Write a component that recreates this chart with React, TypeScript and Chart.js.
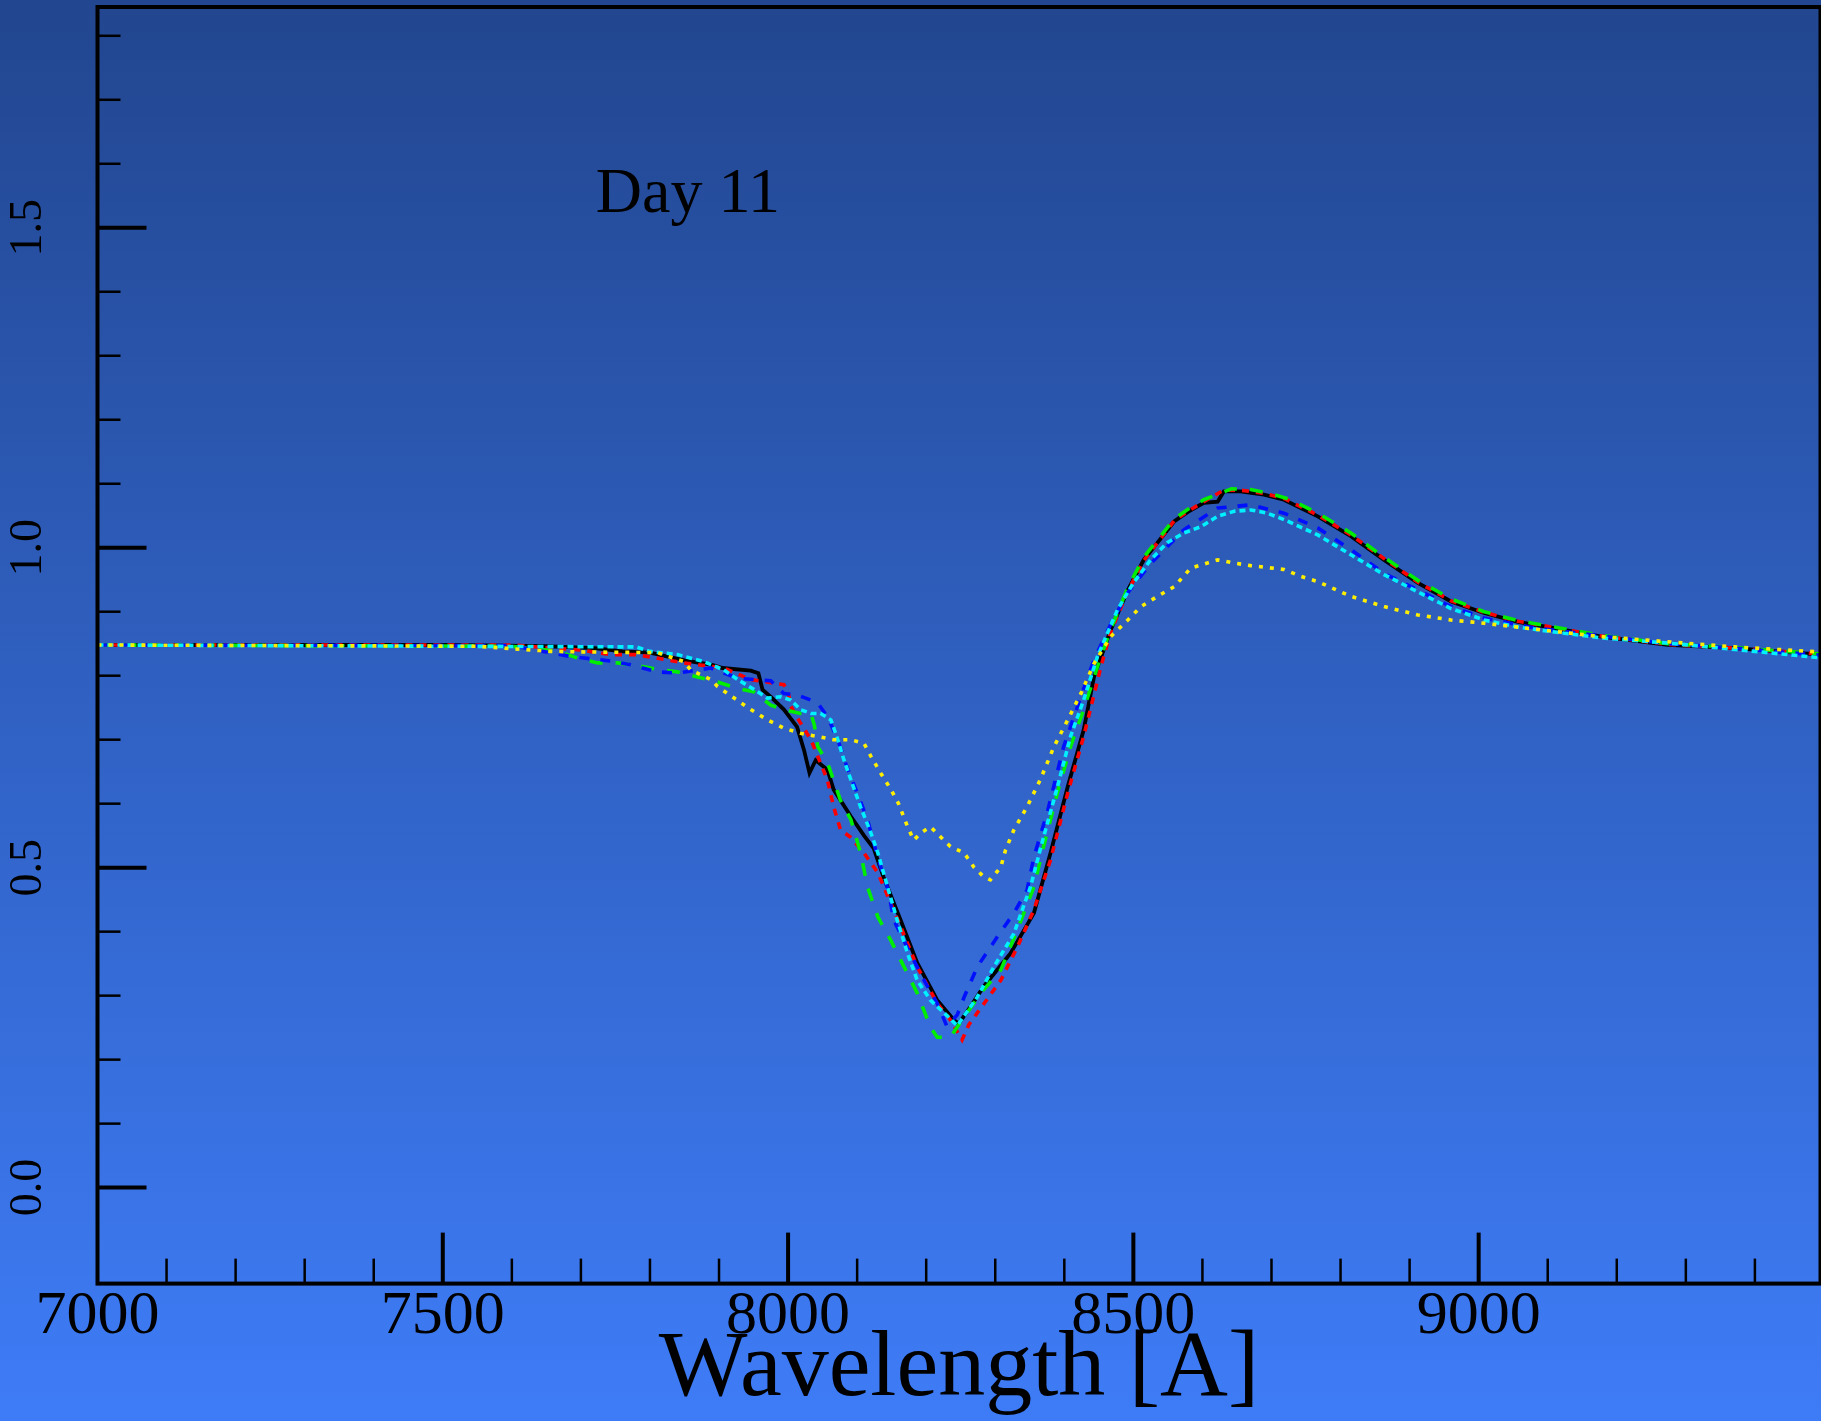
import React, { useEffect, useRef } from 'react';
import { Chart, registerables } from 'chart.js';

Chart.register(...registerables);

const CANVAS_W = 1821;
const CANVAS_H = 1421;

// ---- data (wavelength in Angstrom, normalised flux) ----
const blackWave = [7000, 7500, 7650, 7720, 7760, 7800, 7850, 7890, 7905, 7946, 7957, 7963, 7975, 7994, 8013, 8023, 8031, 8040, 8057, 8066, 8091, 8110, 8124, 8138, 8163, 8187, 8216, 8240, 8247, 8265, 8283, 8322, 8356, 8380, 8405, 8428, 8443, 8467, 8492, 8515, 8535, 8559, 8579, 8602, 8622, 8631, 8655, 8689, 8718, 8767, 8815, 8863, 8912, 8960, 9008, 9057, 9105, 9178, 9274, 9371, 9495];
const blackFlux = [0.848, 0.848, 0.846, 0.843, 0.838, 0.836, 0.824, 0.817, 0.812, 0.808, 0.804, 0.778, 0.767, 0.747, 0.720, 0.684, 0.648, 0.668, 0.653, 0.622, 0.580, 0.550, 0.530, 0.486, 0.418, 0.351, 0.293, 0.262, 0.256, 0.284, 0.314, 0.366, 0.429, 0.523, 0.627, 0.715, 0.798, 0.871, 0.934, 0.981, 1.008, 1.041, 1.056, 1.070, 1.072, 1.088, 1.088, 1.083, 1.075, 1.049, 1.018, 0.981, 0.945, 0.916, 0.898, 0.884, 0.875, 0.861, 0.848, 0.843, 0.833];

const redWave = [7000, 7600, 7700, 7743, 7781, 7849, 7907, 7946, 7994, 8000, 8004, 8018, 8033, 8043, 8057, 8066, 8076, 8090, 8110, 8130, 8163, 8187, 8216, 8235, 8252, 8262, 8274, 8308, 8332, 8356, 8380, 8405, 8428, 8453, 8467, 8492, 8515, 8535, 8559, 8579, 8602, 8631, 8655, 8689, 8718, 8767, 8815, 8863, 8912, 8960, 9008, 9057, 9105, 9178, 9274, 9371, 9495];
const redFlux = [0.848, 0.848, 0.840, 0.833, 0.833, 0.820, 0.812, 0.794, 0.786, 0.775, 0.752, 0.726, 0.700, 0.674, 0.637, 0.595, 0.559, 0.548, 0.523, 0.492, 0.408, 0.345, 0.288, 0.262, 0.231, 0.255, 0.273, 0.324, 0.376, 0.434, 0.512, 0.617, 0.705, 0.814, 0.868, 0.932, 0.980, 1.008, 1.042, 1.057, 1.072, 1.090, 1.090, 1.085, 1.077, 1.051, 1.020, 0.983, 0.946, 0.917, 0.899, 0.885, 0.876, 0.862, 0.849, 0.843, 0.834];

const greenWave = [7000, 7600, 7666, 7700, 7724, 7753, 7781, 7811, 7840, 7869, 7898, 7927, 7950, 7975, 7994, 8018, 8033, 8038, 8043, 8057, 8076, 8091, 8105, 8115, 8130, 8149, 8168, 8187, 8206, 8216, 8235, 8259, 8283, 8308, 8332, 8356, 8370, 8390, 8409, 8428, 8448, 8467, 8492, 8515, 8535, 8559, 8579, 8602, 8642, 8670, 8700, 8728, 8767, 8815, 8863, 8912, 8960, 9008, 9057, 9105, 9178, 9274, 9371, 9495];
const greenFlux = [0.848, 0.846, 0.838, 0.826, 0.820, 0.820, 0.816, 0.810, 0.806, 0.798, 0.790, 0.780, 0.775, 0.754, 0.747, 0.741, 0.741, 0.723, 0.689, 0.664, 0.605, 0.575, 0.523, 0.470, 0.423, 0.386, 0.345, 0.304, 0.251, 0.235, 0.235, 0.273, 0.309, 0.340, 0.403, 0.470, 0.533, 0.617, 0.689, 0.747, 0.814, 0.872, 0.938, 0.985, 1.012, 1.045, 1.060, 1.075, 1.092, 1.091, 1.084, 1.075, 1.054, 1.023, 0.985, 0.949, 0.920, 0.900, 0.886, 0.877, 0.863, 0.850, 0.844, 0.834];

const blueWave = [7000, 7600, 7685, 7743, 7772, 7811, 7840, 7888, 7927, 7975, 7994, 8013, 8033, 8043, 8057, 8072, 8085, 8100, 8115, 8130, 8145, 8153, 8177, 8197, 8216, 8230, 8245, 8255, 8274, 8303, 8327, 8346, 8356, 8375, 8399, 8424, 8443, 8467, 8492, 8525, 8573, 8622, 8670, 8718, 8767, 8815, 8863, 8912, 8960, 9008, 9080, 9178, 9274, 9371, 9495];
const blueFlux = [0.848, 0.847, 0.830, 0.823, 0.817, 0.806, 0.804, 0.812, 0.796, 0.792, 0.772, 0.770, 0.762, 0.757, 0.736, 0.700, 0.658, 0.617, 0.575, 0.515, 0.465, 0.418, 0.366, 0.324, 0.288, 0.252, 0.270, 0.298, 0.345, 0.392, 0.429, 0.465, 0.517, 0.585, 0.689, 0.767, 0.825, 0.880, 0.930, 0.975, 1.028, 1.062, 1.067, 1.054, 1.031, 0.997, 0.960, 0.934, 0.908, 0.890, 0.875, 0.862, 0.850, 0.843, 0.832];

const cyanWave = [7000, 7780, 7800, 7840, 7878, 7907, 7927, 7956, 7970, 7989, 8004, 8018, 8033, 8047, 8062, 8072, 8081, 8091, 8105, 8120, 8130, 8144, 8158, 8173, 8187, 8206, 8226, 8245, 8274, 8298, 8327, 8351, 8370, 8390, 8409, 8428, 8448, 8477, 8500, 8525, 8549, 8573, 8598, 8622, 8646, 8670, 8694, 8718, 8767, 8815, 8863, 8912, 8960, 9008, 9057, 9105, 9178, 9274, 9371, 9495];
const cyanFlux = [0.848, 0.845, 0.838, 0.833, 0.822, 0.809, 0.794, 0.775, 0.765, 0.767, 0.762, 0.747, 0.741, 0.741, 0.731, 0.700, 0.668, 0.637, 0.595, 0.554, 0.523, 0.470, 0.418, 0.366, 0.324, 0.293, 0.273, 0.253, 0.298, 0.345, 0.397, 0.470, 0.548, 0.626, 0.705, 0.762, 0.830, 0.903, 0.945, 0.981, 1.008, 1.023, 1.033, 1.049, 1.057, 1.059, 1.054, 1.044, 1.020, 0.989, 0.958, 0.931, 0.905, 0.887, 0.876, 0.869, 0.859, 0.851, 0.841, 0.828];

const yellowWave = [7000, 7550, 7656, 7714, 7811, 7849, 7859, 7888, 7898, 7922, 7946, 7970, 7994, 8018, 8043, 8066, 8091, 8110, 8120, 8134, 8149, 8160, 8173, 8182, 8192, 8206, 8221, 8235, 8255, 8269, 8283, 8293, 8308, 8315, 8327, 8346, 8365, 8385, 8405, 8424, 8443, 8467, 8492, 8511, 8535, 8559, 8583, 8622, 8646, 8670, 8718, 8743, 8767, 8815, 8863, 8912, 8960, 9008, 9080, 9178, 9274, 9371, 9495];
const yellowFlux = [0.848, 0.846, 0.838, 0.837, 0.836, 0.822, 0.809, 0.794, 0.783, 0.765, 0.747, 0.731, 0.718, 0.710, 0.705, 0.700, 0.700, 0.694, 0.674, 0.648, 0.622, 0.600, 0.564, 0.543, 0.554, 0.564, 0.548, 0.533, 0.523, 0.501, 0.486, 0.481, 0.501, 0.528, 0.559, 0.595, 0.637, 0.689, 0.731, 0.772, 0.819, 0.861, 0.887, 0.908, 0.924, 0.939, 0.968, 0.981, 0.976, 0.972, 0.966, 0.955, 0.947, 0.924, 0.908, 0.895, 0.887, 0.882, 0.873, 0.861, 0.853, 0.845, 0.837];

// ---- axes ----
const xTickValues = [7000, 7100, 7200, 7300, 7400, 7500, 7600, 7700, 7800, 7900, 8000, 8100, 8200, 8300, 8400, 8500, 8600, 8700, 8800, 8900, 9000, 9100, 9200, 9300, 9400];
const xTickLabels = ['7000', '7500', '8000', '8500', '9000'];
const yTickValues = [0, 0.1, 0.2, 0.3, 0.4, 0.5, 0.6, 0.7, 0.8, 0.9, 1.0, 1.1, 1.2, 1.3, 1.4, 1.5, 1.6, 1.7, 1.8];
const yTickLabels = ['0.0', '0.5', '1.0', '1.5'];
const xTitle = 'Wavelength [A]';
const dayLabel = 'Day 11';
const dayLabelPos = [7721.5, 1.525];

const X_MIN = 7000;
const X_MAX = 9495;
const Y_MIN = -0.15;
const Y_MAX = 1.845;

const SERIF = '"Liberation Serif", "Times New Roman", serif';

const toPts = (w: number[], f: number[]) => w.map((x, i) => ({ x, y: f[i] }));

const bgPlugin = {
  id: 'bgGradient',
  beforeDraw(chart: any) {
    const { ctx, width, height } = chart;
    const g = ctx.createLinearGradient(0, 0, 0, height);
    g.addColorStop(0, '#22468f');
    g.addColorStop(1, '#3e7cf7');
    ctx.save();
    ctx.fillStyle = g;
    ctx.fillRect(0, 0, width, height);
    ctx.restore();
  },
};

const framePlugin = {
  id: 'frameTicks',
  afterDraw(chart: any) {
    const { ctx, chartArea } = chart;
    const { left, right, top, bottom } = chartArea;
    const xs = chart.scales.x;
    const ys = chart.scales.y;
    ctx.save();
    ctx.strokeStyle = '#000';
    ctx.lineCap = 'butt';
    xs.ticks.forEach((t: any) => {
      const v = t.value;
      if (v <= X_MIN + 1e-6 || v >= X_MAX - 1) return;
      const major = Math.abs(v / 500 - Math.round(v / 500)) < 1e-6;
      const px = xs.getPixelForValue(v);
      ctx.lineWidth = major ? 4 : 2.5;
      ctx.beginPath();
      ctx.moveTo(px, bottom);
      ctx.lineTo(px, bottom - (major ? 51 : 25));
      ctx.stroke();
    });
    ys.ticks.forEach((t: any) => {
      const v = t.value;
      if (v < -1e-6 || v > Y_MAX - 0.01) return;
      const major = Math.abs(v * 2 - Math.round(v * 2)) < 1e-6;
      const py = ys.getPixelForValue(v);
      ctx.lineWidth = major ? 4 : 2.5;
      ctx.beginPath();
      ctx.moveTo(left, py);
      ctx.lineTo(left + (major ? 49 : 23), py);
      ctx.stroke();
    });
    ctx.lineWidth = 4;
    ctx.strokeRect(left, top, right - left, bottom - top);
    // in-plot label
    ctx.fillStyle = '#000';
    ctx.font = `64px ${SERIF}`;
    ctx.textAlign = 'left';
    ctx.textBaseline = 'alphabetic';
    ctx.fillText(dayLabel, xs.getPixelForValue(dayLabelPos[0]), ys.getPixelForValue(dayLabelPos[1]));
    ctx.restore();
  },
};

export default function App() {
  const ref = useRef<HTMLCanvasElement | null>(null);
  useEffect(() => {
    const canvas = ref.current;
    if (!canvas) return;
    const mk = (label: string, w: number[], f: number[], color: string, dash: number[], order: number, width = 3.6) => ({
      label,
      data: toPts(w, f),
      borderColor: color,
      backgroundColor: color,
      borderWidth: width,
      borderDash: dash,
      pointRadius: 0,
      tension: 0,
      fill: false,
      order,
    });
    const chart = new Chart(canvas, {
      type: 'line',
      data: {
        datasets: [
          mk('yellow', yellowWave, yellowFlux, '#ffee00', [4, 7], 0, 3.6),
          mk('cyan', cyanWave, cyanFlux, '#00f0ff', [6, 4], 1),
          mk('blue', blueWave, blueFlux, '#0010ff', [10, 11], 2),
          mk('green', greenWave, greenFlux, '#00ee00', [13, 13], 3),
          mk('red', redWave, redFlux, '#ff0000', [7, 7], 4),
          mk('black', blackWave, blackFlux, '#000000', [], 5, 3.8),
        ] as any,
      },
      options: {
        responsive: false,
        animation: false,
        devicePixelRatio: 1,
        layout: { padding: { top: 7, right: 0.5, left: 0, bottom: 0 } },
        plugins: { legend: { display: false }, tooltip: { enabled: false } },
        events: [],
        scales: {
          x: {
            type: 'linear',
            min: X_MIN,
            max: X_MAX,
            grid: { display: false, drawTicks: false, tickLength: 0 },
            border: { display: false },
            afterBuildTicks: (s: any) => { s.ticks = xTickValues.map((value) => ({ value })); },
            ticks: {
              autoSkip: false,
              maxRotation: 0,
              minRotation: 0,
              padding: 2.4,
              color: '#000',
              font: { family: SERIF, size: 62, lineHeight: 1 },
              callback: (v: any) => {
                const s = String(Math.round(Number(v)));
                return xTickLabels.includes(s) ? s : '';
              },
            },
            title: {
              display: true,
              text: xTitle,
              color: '#000',
              font: { family: SERIF, size: 94, lineHeight: 1 },
              padding: { top: 0, bottom: 4 },
            },
            afterFit: (s: any) => {
              s.height = CANVAS_H - 1283.6;
              s.paddingLeft = 0;
              s.paddingRight = 0;
            },
          },
          y: {
            type: 'linear',
            min: Y_MIN,
            max: Y_MAX,
            grid: { display: false, drawTicks: false, tickLength: 0 },
            border: { display: false },
            afterBuildTicks: (s: any) => { s.ticks = yTickValues.map((value) => ({ value })); },
            ticks: {
              autoSkip: false,
              minRotation: 90,
              maxRotation: 90,
              crossAlign: 'center',
              padding: 39.5,
              color: '#000',
              font: { family: SERIF, size: 46, lineHeight: 1 },
              callback: (v: any) => {
                const s = Number(v).toFixed(1);
                return yTickLabels.includes(s) && Math.abs(Number(v) * 2 - Math.round(Number(v) * 2)) < 1e-6 ? s : '';
              },
            },
            afterFit: (s: any) => {
              s.width = 97.5;
              s.paddingTop = 0;
              s.paddingBottom = 0;
            },
          },
        },
      } as any,
      plugins: [bgPlugin, framePlugin],
    });
    return () => chart.destroy();
  }, []);
  return (
    <div style={{ position: 'fixed', left: 0, top: 0, width: CANVAS_W, height: CANVAS_H, overflow: 'hidden' }}>
      <canvas ref={ref} width={CANVAS_W} height={CANVAS_H} style={{ display: 'block', width: CANVAS_W, height: CANVAS_H }} />
    </div>
  );
}
